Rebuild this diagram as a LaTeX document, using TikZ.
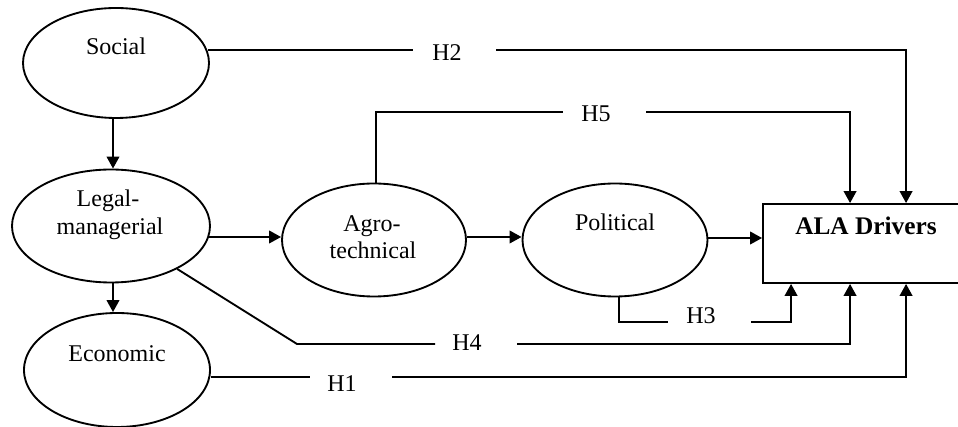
\documentclass[tikz,border=0pt]{standalone}
\usepackage{fontspec}
\setmainfont{Liberation Serif}
\usetikzlibrary{arrows.meta,calc,shapes.geometric}
\begin{document}
\begin{tikzpicture}[x=0.75pt,y=-0.75pt,
  txt/.style={font=\fontsize{18}{21}\selectfont,inner sep=0pt,anchor=base},
  oval/.style={draw,ellipse,line width=1.4pt,inner sep=0pt},
  ln/.style={line width=1.4pt},
  arr/.style={ln,-{Triangle[length=9pt,width=9.5pt]}}]
\useasboundingbox (0,0) rectangle (958,427);
\clip (0,0) rectangle (958,427);
% ovals
\node[oval,minimum width=139.5pt,minimum height=82.5pt] (soc) at (116,63) {};
\node[oval,minimum width=148.5pt,minimum height=84.75pt] (leg) at (111,226) {};
\node[oval,minimum width=139.5pt,minimum height=85.5pt] (eco) at (117,370) {};
\node[oval,minimum width=138pt,minimum height=84.75pt] (agro) at (374,240) {};
\node[oval,minimum width=138.75pt,minimum height=84.75pt] (pol) at (615,240) {};
\node[draw,rectangle,line width=1.4pt,minimum width=149.25pt,minimum height=59.25pt,inner sep=0pt] (ala) at (862.5,243.5) {};
% texts
\node[txt] (tsoc) at (116,55) {Social};
\node[txt] (tleg1) at (108,207) {Legal-};
\node[txt] (tleg2) at (110,235) {managerial};
\node[txt] (teco) at (117,362) {Economic};
\node[txt] (tagro1) at (372,232) {Agro-};
\node[txt] (tagro2) at (373,259) {technical};
\node[txt] (tpol) at (615,231) {Political};
\node[txt,font=\fontsize{19}{22}\selectfont\bfseries] (tala) at (866,235) {ALA Drivers};
% hypothesis labels
\node[txt] (h2) at (447,61) {H2};
\node[txt] (h5) at (596,122) {H5};
\node[txt] (h3) at (701,324) {H3};
\node[txt] (h4) at (467,351) {H4};
\node[txt] (h1) at (342,392) {H1};
% gap coordinates
\coordinate (ax) at (113,0);
\coordinate (g2a) at (413,50);  \coordinate (g2b) at (496,50);
\coordinate (g5a) at (563,112); \coordinate (g5b) at (646,112);
\coordinate (g3a) at (668,322); \coordinate (g3b) at (751,322);
\coordinate (k4) at (297,344);
\coordinate (g4a) at (435,344); \coordinate (g4b) at (517,344);
\coordinate (g1a) at (310,377); \coordinate (g1b) at (392,377);
\coordinate (t1) at ($(ala.north west)+(88,0)$);
\coordinate (t2) at ($(ala.north west)+(144,0)$);
\coordinate (b1) at ($(ala.south west)+(29,0)$);
\coordinate (b2) at ($(ala.south west)+(88,0)$);
\coordinate (b3) at ($(ala.south west)+(144,0)$);
% main chain
\draw[arr] (soc.south -| ax) -- (leg.north -| ax);
\draw[arr] (leg.south -| ax) -- (eco.north -| ax);
\draw[arr] ($(leg.east)+(-2,11)$) -- ($(agro.west)+(0,-3)$);
\draw[arr] ($(agro.east)+(0,-3)$) -- ($(pol.west)+(0,-3)$);
\draw[arr] ($(pol.east)+(0,-2)$) coordinate (p) -- (p -| ala.west);
% H2
\draw[ln] ($(soc.east)+(-2,-13)$) -- (g2a);
\draw[arr] (g2b) -| (t2);
% H5
\draw[ln] ($(agro.north)+(2,0)$) |- (g5a);
\draw[arr] (g5b) -| (t1);
% H3
\draw[ln] ($(pol.south)+(4,0)$) |- (g3a);
\draw[arr] (g3b) -| (b1);
% H4
\draw[ln] (leg.-33) -- (k4) -- (g4a);
\draw[arr] (g4b) -| (b2);
% H1
\draw[ln] ($(eco.east)+(0,7)$) -- (g1a);
\draw[arr] (g1b) -| (b3);
\end{tikzpicture}
\end{document}
